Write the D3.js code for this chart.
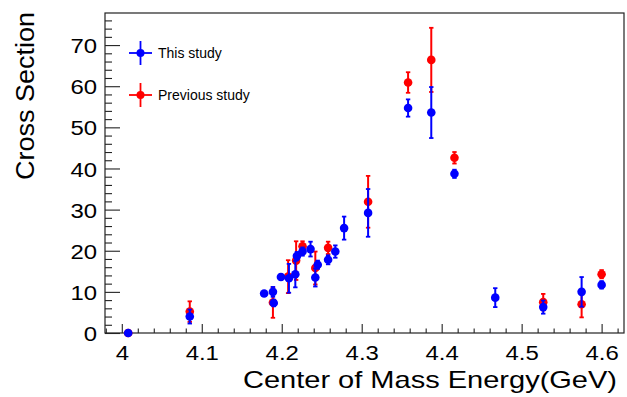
<!DOCTYPE html>
<html>
<head>
<meta charset="utf-8">
<script src="https://cdn.jsdelivr.net/npm/d3@7"></script>
<style>
  html, body { margin: 0; padding: 0; background: #fff; }
  svg { display: block; }
  text { font-family: "Liberation Sans", Arial, Helvetica, sans-serif; fill: #000; }
</style>
</head>
<body>
<svg id="chart" width="627" height="397"></svg>
<script>
// ---- data ----
const thisEnergy = [4.008, 4.085, 4.178, 4.189, 4.190, 4.199, 4.209, 4.217, 4.219, 4.226, 4.236, 4.242, 4.245, 4.258, 4.267, 4.278, 4.308, 4.358, 4.387, 4.416, 4.467, 4.527, 4.575, 4.600];
const thisXsec   = [0.0, 4.0, 9.6, 10.0, 7.3, 13.6, 13.3, 14.3, 18.7, 19.8, 20.4, 13.5, 16.6, 17.8, 19.8, 25.5, 29.2, 54.7, 53.6, 38.7, 8.6, 6.3, 10.0, 11.7];
const thisErr    = [0.0, 1.7, 0.5, 1.2, 0.8, 0.6, 3.5, 3.2, 1.0, 1.0, 1.8, 2.2, 1.0, 1.1, 1.5, 2.8, 5.8, 2.1, 6.2, 1.0, 2.3, 1.6, 3.6, 0.9];

const prevEnergy = [4.008, 4.085, 4.189, 4.208, 4.218, 4.226, 4.242, 4.258, 4.308, 4.358, 4.387, 4.416, 4.527, 4.575, 4.600];
const prevXsec   = [0.0, 5.2, 7.4, 13.7, 17.6, 21.1, 15.8, 20.7, 31.9, 60.9, 66.4, 42.6, 7.5, 7.0, 14.3];
const prevErr    = [0.0, 2.5, 3.7, 4.0, 4.7, 1.2, 4.0, 1.5, 6.3, 2.5, 7.8, 1.4, 2.0, 3.2, 1.0];

const xMajorTicks = [4.0, 4.1, 4.2, 4.3, 4.4, 4.5, 4.6];
const xTickLabels = ["4", "4.1", "4.2", "4.3", "4.4", "4.5", "4.6"];
const yMajorTicks = [0, 10, 20, 30, 40, 50, 60, 70];
const yTickLabels = ["0", "10", "20", "30", "40", "50", "60", "70"];

const seriesNames = ["This study", "Previous study"];
const seriesColors = ["#0000ff", "#ff0000"];

// ---- layout ----
const svg = d3.select("#chart");
const frameL = 105, frameR = 624, frameT = 13, frameB = 333;

const x = d3.scaleLinear().domain([3.979, 4.628]).range([frameL, frameR]);
const y = d3.scaleLinear().domain([0, 77.8]).range([frameB, frameT]);

const xMinor = d3.range(3.98, 4.621, 0.02).map(v => +v.toFixed(2))
  .filter(v => !xMajorTicks.some(m => Math.abs(m - v) < 1e-6));
const yMinor = d3.range(0, 77, 2).filter(v => v % 10 !== 0);

const stretch = 1.14;

// frame
svg.append("rect")
  .attr("x", frameL).attr("y", frameT)
  .attr("width", frameR - frameL).attr("height", frameB - frameT)
  .attr("fill", "none").attr("stroke", "#222").attr("stroke-width", 1.2);

// bottom axis: ticks point into the frame
const gxMinor = svg.append("g").attr("transform", `translate(0,${frameB})`)
  .call(d3.axisBottom(x).tickValues(xMinor).tickSize(-4.5).tickFormat(""));
const gx = svg.append("g").attr("transform", `translate(0,${frameB})`)
  .call(d3.axisBottom(x).tickValues(xMajorTicks).tickSize(-9)
    .tickFormat((d, i) => xTickLabels[i]));

// left axis: ticks point into the frame
const gyMinor = svg.append("g").attr("transform", `translate(${frameL},0)`)
  .call(d3.axisLeft(y).tickValues(yMinor).tickSize(-7).tickFormat(""));
const gy = svg.append("g").attr("transform", `translate(${frameL},0)`)
  .call(d3.axisLeft(y).tickValues(yMajorTicks).tickSize(-15)
    .tickFormat((d, i) => yTickLabels[i]));

[gx, gxMinor, gy, gyMinor].forEach(g => {
  g.select(".domain").remove();
  g.selectAll(".tick line").attr("stroke", "#222").attr("stroke-width", 1.1);
});

gx.selectAll(".tick text")
  .attr("x", 0).attr("y", 0).attr("dy", null)
  .attr("transform", `translate(0,27) scale(${stretch},1)`)
  .attr("font-size", 21).attr("text-anchor", "middle").attr("fill", "#000");

gy.selectAll(".tick text")
  .attr("x", 0).attr("dy", "0.36em")
  .attr("transform", `translate(-8,0) scale(${stretch},1)`)
  .attr("font-size", 21).attr("text-anchor", "end").attr("fill", "#000");

// axis titles
svg.append("text")
  .attr("x", 617).attr("y", 388)
  .attr("text-anchor", "end")
  .attr("font-size", 24)
  .attr("textLength", 374).attr("lengthAdjust", "spacingAndGlyphs")
  .text("Center of Mass Energy(GeV)");

svg.append("text")
  .attr("transform", "translate(34,12) rotate(-90)")
  .attr("text-anchor", "end")
  .attr("font-size", 26)
  .attr("textLength", 168).attr("lengthAdjust", "spacingAndGlyphs")
  .text("Cross Section");

// ---- points with error bars ----
function drawSeries(energy, xsec, err, color) {
  const pts = energy.map((e, i) => ({ e, v: xsec[i], s: err[i] }));
  const g = svg.append("g");
  const cap = 2.2;
  const bars = g.selectAll("g.pt").data(pts).join("g").attr("class", "pt");
  bars.filter(d => d.s > 0).append("line")
    .attr("x1", d => x(d.e)).attr("x2", d => x(d.e))
    .attr("y1", d => y(d.v + d.s)).attr("y2", d => y(d.v - d.s))
    .attr("stroke", color).attr("stroke-width", 2);
  bars.filter(d => d.s > 0).append("line")
    .attr("x1", d => x(d.e) - cap).attr("x2", d => x(d.e) + cap)
    .attr("y1", d => y(d.v + d.s)).attr("y2", d => y(d.v + d.s))
    .attr("stroke", color).attr("stroke-width", 1.8);
  bars.filter(d => d.s > 0).append("line")
    .attr("x1", d => x(d.e) - cap).attr("x2", d => x(d.e) + cap)
    .attr("y1", d => y(d.v - d.s)).attr("y2", d => y(d.v - d.s))
    .attr("stroke", color).attr("stroke-width", 1.8);
  bars.append("circle")
    .attr("cx", d => x(d.e)).attr("cy", d => y(d.v))
    .attr("r", 4.3).attr("fill", color);
}

drawSeries(prevEnergy, prevXsec, prevErr, seriesColors[1]);
drawSeries(thisEnergy, thisXsec, thisErr, seriesColors[0]);

// ---- legend ----
const legendRows = [53, 95];
seriesNames.forEach((name, i) => {
  const cy = legendRows[i], cx = 140.5, c = seriesColors[i];
  const lg = svg.append("g");
  lg.append("line").attr("x1", cx - 11.5).attr("x2", cx + 11.5)
    .attr("y1", cy).attr("y2", cy).attr("stroke", c).attr("stroke-width", 1.8);
  lg.append("line").attr("x1", cx).attr("x2", cx)
    .attr("y1", cy - 12).attr("y2", cy + 12).attr("stroke", c).attr("stroke-width", 1.8);
  lg.append("circle").attr("cx", cx).attr("cy", cy).attr("r", 4).attr("fill", c);
  lg.append("text").attr("x", 158).attr("y", cy + 5)
    .attr("font-size", 14).attr("fill", "#222").text(name);
});
</script>
</body>
</html>
